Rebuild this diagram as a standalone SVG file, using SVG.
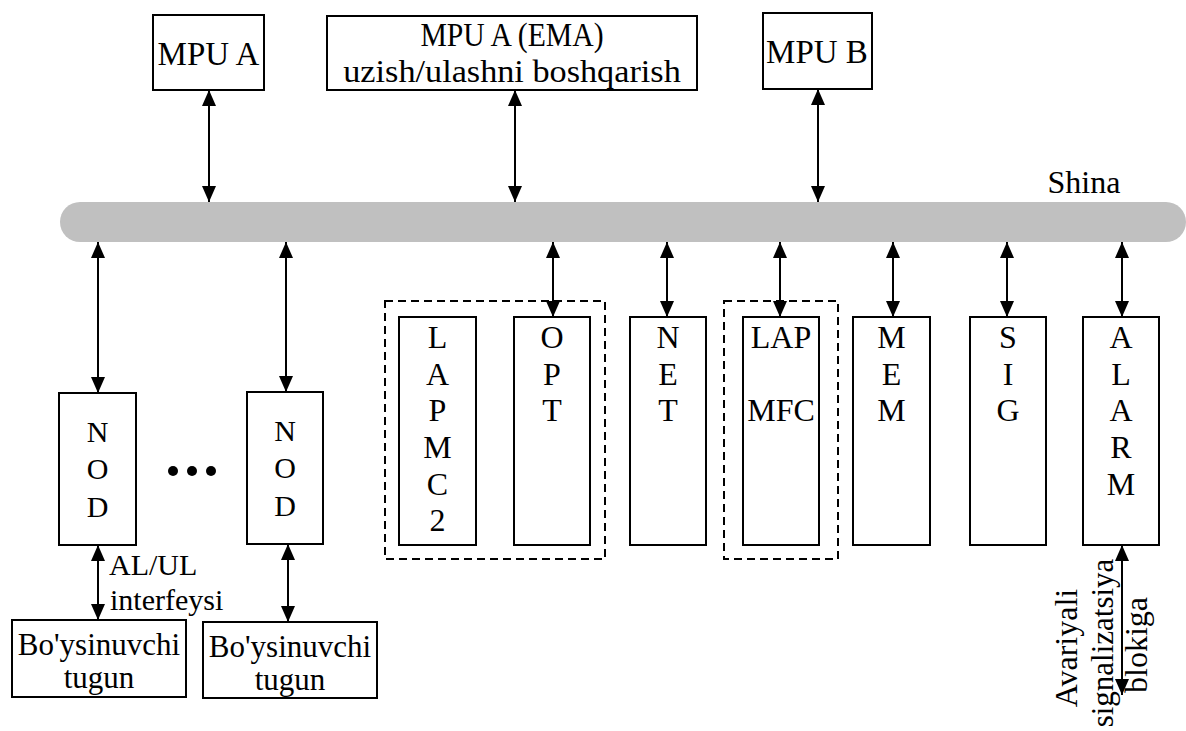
<svg xmlns="http://www.w3.org/2000/svg" width="1186" height="731" viewBox="0 0 1186 731">
<defs>
<style>
.b{fill:#fff;stroke:#000;stroke-width:2}
.d{fill:none;stroke:#000;stroke-width:2;stroke-dasharray:8 5}
.t{font-family:"Liberation Serif","Times New Roman",serif;fill:#000;text-anchor:middle}
.c{stroke:#000;stroke-width:2;fill:none;marker-start:url(#ah);marker-end:url(#ah)}
</style>
<marker id="ah" markerUnits="userSpaceOnUse" markerWidth="16" markerHeight="14" refX="16" refY="7" orient="auto-start-reverse">
<path d="M0,0 L16,7 L0,14 z" fill="#000"/>
</marker>
</defs>
<rect width="1186" height="731" fill="#fff"/>
<g id="bus">
<rect x="60" y="202" width="1126" height="40" rx="20" ry="20" fill="#c0c0c0"/>
<text class="t" x="1084" y="193" font-size="32">Shina</text>
</g>
<g id="connectors">
<line class="c" x1="209" y1="90" x2="209" y2="202"/>
<line class="c" x1="515" y1="90" x2="515" y2="202"/>
<line class="c" x1="818" y1="89" x2="818" y2="202"/>
<line class="c" x1="98" y1="242" x2="98" y2="393"/>
<line class="c" x1="286" y1="242" x2="286" y2="392"/>
<line class="c" x1="553" y1="242" x2="553" y2="317"/>
<line class="c" x1="667" y1="242" x2="667" y2="317"/>
<line class="c" x1="780" y1="242" x2="780" y2="317"/>
<line class="c" x1="893" y1="242" x2="893" y2="317"/>
<line class="c" x1="1007" y1="242" x2="1007" y2="317"/>
<line class="c" x1="1122" y1="242" x2="1122" y2="317"/>
<line class="c" x1="98" y1="545" x2="98" y2="620"/>
<line class="c" x1="288" y1="544" x2="288" y2="622"/>
<line class="c" x1="1122" y1="545" x2="1122" y2="695"/>
</g>
<g id="mpuA">
<rect class="b" x="153" y="15" width="111" height="75"/>
<text class="t" x="208.5" y="65" font-size="33">MPU A</text>
</g>
<g id="mpuEMA">
<rect class="b" x="327" y="16" width="370" height="74"/>
<text class="t" font-size="33" transform="translate(512,46) scale(0.9,1)">MPU A (EMA)</text>
<text class="t" font-size="32" transform="translate(512,82) scale(1.07,1)">uzish/ulashni boshqarish</text>
</g>
<g id="mpuB">
<rect class="b" x="763" y="13" width="109" height="76"/>
<text class="t" x="817" y="63" font-size="33">MPU B</text>
</g>
<g id="nod1">
<rect class="b" x="59" y="393" width="77" height="152"/>
<text class="t" font-size="30"><tspan x="97.5" y="442">N</tspan><tspan x="97.5" y="479">O</tspan><tspan x="97.5" y="517">D</tspan></text>
</g>
<g id="dots">
<circle cx="173" cy="471" r="5"/>
<circle cx="192" cy="471" r="5"/>
<circle cx="211" cy="471" r="5"/>
</g>
<g id="nod2">
<rect class="b" x="247" y="392" width="76" height="152"/>
<text class="t" font-size="30"><tspan x="285" y="441">N</tspan><tspan x="285" y="478">O</tspan><tspan x="285" y="516">D</tspan></text>
</g>
<g id="group1">
<rect class="d" x="385" y="301" width="220" height="258"/>
</g>
<g id="lapmc2">
<rect class="b" x="399" y="317" width="77" height="228"/>
<text class="t" font-size="32"><tspan x="437.5" y="348">L</tspan><tspan x="437.5" y="384.7">A</tspan><tspan x="437.5" y="421.3">P</tspan><tspan x="437.5" y="458">M</tspan><tspan x="437.5" y="494.7">C</tspan><tspan x="437.5" y="531.3">2</tspan></text>
</g>
<g id="opt">
<rect class="b" x="514" y="317" width="76" height="228"/>
<text class="t" font-size="32"><tspan x="552" y="348">O</tspan><tspan x="552" y="384.7">P</tspan><tspan x="552" y="421.3">T</tspan></text>
</g>
<g id="net">
<rect class="b" x="630" y="317" width="76" height="228"/>
<text class="t" font-size="32"><tspan x="668" y="348">N</tspan><tspan x="668" y="384.7">E</tspan><tspan x="668" y="421.3">T</tspan></text>
</g>
<g id="group2">
<rect class="d" x="724" y="301" width="114" height="258"/>
</g>
<g id="lapmfc">
<rect class="b" x="743" y="317" width="76" height="228"/>
<text class="t" font-size="32"><tspan x="781" y="348">LAP</tspan><tspan x="781" y="421.3">MFC</tspan></text>
</g>
<g id="mem">
<rect class="b" x="853" y="317" width="77" height="228"/>
<text class="t" font-size="32"><tspan x="891.5" y="348">M</tspan><tspan x="891.5" y="384.7">E</tspan><tspan x="891.5" y="421.3">M</tspan></text>
</g>
<g id="sig">
<rect class="b" x="970" y="317" width="76" height="228"/>
<text class="t" font-size="32"><tspan x="1008" y="348">S</tspan><tspan x="1008" y="384.7">I</tspan><tspan x="1008" y="421.3">G</tspan></text>
</g>
<g id="alarm">
<rect class="b" x="1083" y="317" width="76" height="228"/>
<text class="t" font-size="32"><tspan x="1121" y="348">A</tspan><tspan x="1121" y="384.7">L</tspan><tspan x="1121" y="421.3">A</tspan><tspan x="1121" y="458">R</tspan><tspan x="1121" y="494.7">M</tspan></text>
</g>
<g id="alulLabel">
<text class="t" font-size="30" style="text-anchor:start"><tspan x="109" y="575">AL/UL</tspan><tspan x="110" y="610">interfeysi</tspan></text>
</g>
<g id="alarmLabel">
<text class="t" font-size="32" transform="translate(1077,648) rotate(-90)">Avariyali</text>
<text class="t" font-size="31" transform="translate(1113,643) rotate(-90)">signalizatsiya</text>
<text class="t" font-size="32" transform="translate(1147,645) rotate(-90)">blokiga</text>
</g>
<g id="sub1">
<rect class="b" x="12" y="620" width="174" height="77"/>
<text class="t" font-size="31"><tspan x="99" y="655">Bo'ysinuvchi</tspan><tspan x="99" y="688">tugun</tspan></text>
</g>
<g id="sub2">
<rect class="b" x="203" y="622" width="174" height="76"/>
<text class="t" font-size="31"><tspan x="290" y="657">Bo'ysinuvchi</tspan><tspan x="290" y="690">tugun</tspan></text>
</g>
</svg>
